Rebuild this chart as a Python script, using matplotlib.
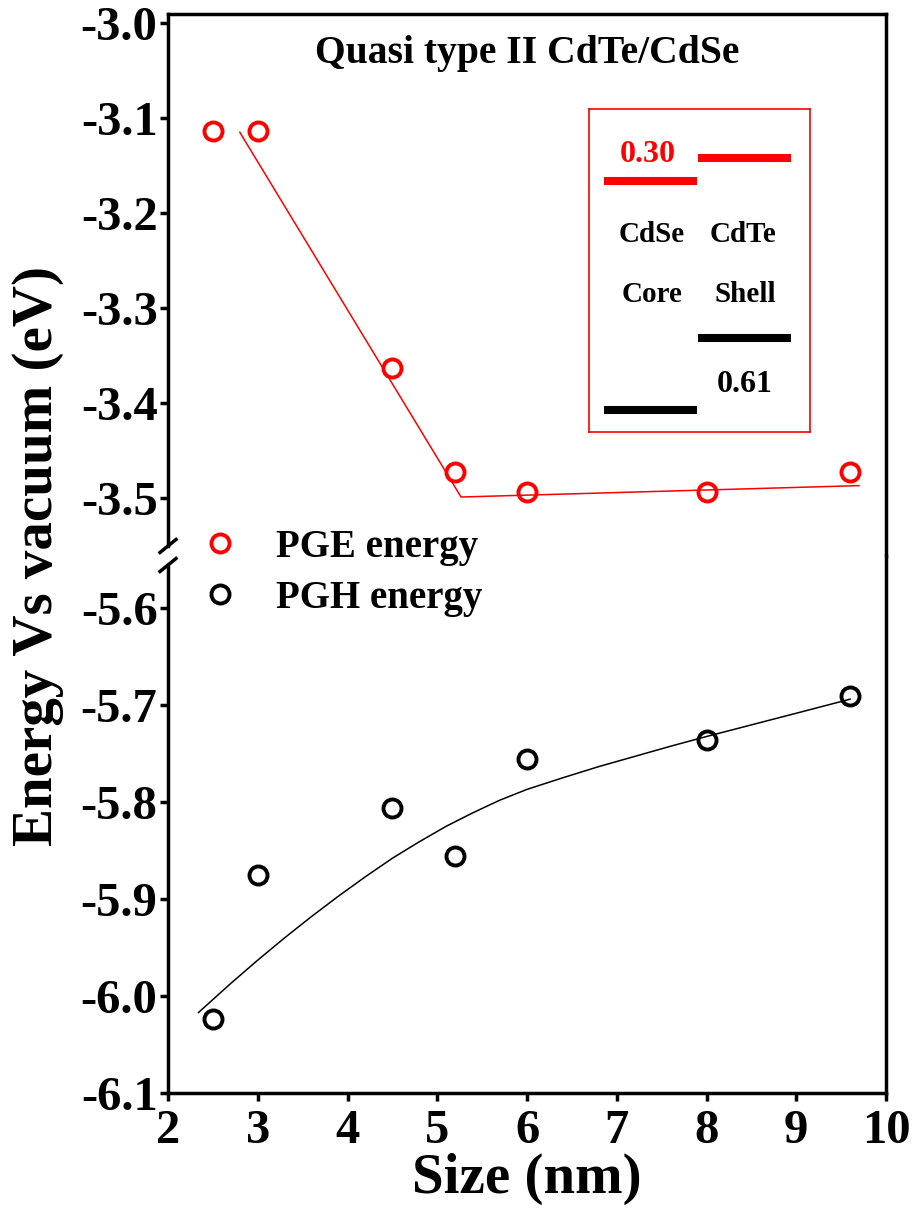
import matplotlib
matplotlib.use("Agg")
import matplotlib.pyplot as plt
from matplotlib.lines import Line2D

plt.rcParams['font.family'] = ['Liberation Serif', 'DejaVu Serif']
plt.rcParams['font.weight'] = 'bold'
plt.rcParams['axes.unicode_minus'] = False

# Measured band-edge energies versus nanocrystal size
size_nm = [2.5, 3.0, 4.5, 5.2, 6.0, 8.0, 9.6]
pge_energy = [-3.114, -3.114, -3.363, -3.473, -3.494, -3.494, -3.473]
pgh_energy = [-6.024, -5.875, -5.806, -5.856, -5.756, -5.736, -5.691]

# Trend line through the PGE points (two linear segments)
pge_fit_x = [2.80, 5.265, 9.70]
pge_fit_y = [-3.115, -3.499, -3.487]

# Smooth trend curve through the PGH points
pgh_fit_x = [2.34, 2.70, 3.00, 3.30, 3.60, 3.90, 4.20, 4.50, 4.80, 5.10, 5.40,
             5.70, 6.00, 6.40, 6.80, 7.20, 7.60, 8.00, 8.50, 9.00, 9.60]
pgh_fit_y = [-6.017, -5.987, -5.963, -5.940, -5.918, -5.897, -5.877, -5.858,
             -5.841, -5.825, -5.811, -5.798, -5.787, -5.775, -5.7635, -5.753,
             -5.7425, -5.7325, -5.7205, -5.7085, -5.694]

upper_ticks = [-3.0, -3.1, -3.2, -3.3, -3.4, -3.5]
lower_ticks = [-5.6, -5.7, -5.8, -5.9, -6.0, -6.1]
x_ticks = [2, 3, 4, 5, 6, 7, 8, 9, 10]

W, H = 915, 1218
fig = plt.figure(figsize=(W / 100, H / 100), dpi=100)

left_px, right_px = 168, 886
top_px, split_px, bottom_px = 14, 556, 1093


def fx(px):
    return px / W


def fy(py):
    return 1 - py / H


ax_top = fig.add_axes([fx(left_px), fy(split_px), fx(right_px - left_px),
                       (split_px - top_px) / H])
ax_bot = fig.add_axes([fx(left_px), fy(bottom_px), fx(right_px - left_px),
                       (bottom_px - split_px) / H])

lw_spine = 2.5
tick_fs = 35

for ax in (ax_top, ax_bot):
    ax.set_xlim(2, 10)
    for s in ax.spines.values():
        s.set_linewidth(lw_spine)
        s.set_capstyle('projecting')
    ax.tick_params(axis='both', direction='out', length=5.5, width=lw_spine,
                   labelsize=tick_fs, pad=2)
    ax.tick_params(axis='x', pad=6)

ax_top.set_ylim(-3.5611, -2.9905)
ax_bot.set_ylim(-6.1, -5.5464)

ax_top.spines['bottom'].set_visible(False)
ax_bot.spines['top'].set_visible(False)
ax_top.spines['left'].set_bounds(-3.5505, -2.9905)
ax_bot.spines['left'].set_bounds(-6.1, -5.5557)

ax_top.set_xticks([])
ax_top.tick_params(axis='x', which='both', bottom=False, labelbottom=False)
ax_top.set_yticks(upper_ticks)
ax_top.set_yticklabels([f"{v:.1f}" for v in upper_ticks])
ax_bot.set_yticks(lower_ticks)
ax_bot.set_yticklabels([f"{v:.1f}" for v in lower_ticks])
ax_bot.set_xticks(x_ticks)
ax_bot.set_xticklabels([str(v) for v in x_ticks])

marker_kw = dict(marker='o', markersize=13, markeredgewidth=2.8,
                 markerfacecolor='none', linestyle='none', clip_on=False)

ax_top.plot(pge_fit_x, pge_fit_y, color='#ff0000', lw=1.1)
h_pge, = ax_top.plot(size_nm, pge_energy, color='#ff0000',
                     markeredgecolor='#ff0000', **marker_kw)

ax_bot.plot(pgh_fit_x, pgh_fit_y, color='black', lw=1.1)
h_pgh, = ax_bot.plot(size_nm, pgh_energy, color='black',
                     markeredgecolor='black', **marker_kw)

# Axis titles
ax_bot.set_xlabel("Size (nm)", fontsize=41, fontweight='bold', labelpad=0)
fig.text(fx(38), fy((262 + 850) / 2), "Energy Vs vacuum (eV)", rotation=90,
         fontsize=41, fontweight='bold', ha='center', va='center')

ax_top.text(0.5, 0.9096, "Quasi type II CdTe/CdSe", transform=ax_top.transAxes,
            fontsize=28.5, fontweight='bold', ha='center', va='baseline')

# Axis-break marks on the left spine
for cy in (546, 565):
    fig.add_artist(Line2D([fx(left_px - 8), fx(left_px + 8)],
                          [fy(cy + 6.5), fy(cy - 6.5)],
                          color='black', lw=lw_spine,
                          transform=fig.transFigure))

# Legend
fig.legend([h_pge, h_pgh], ["PGE energy", "PGH energy"],
           loc='center left', bbox_to_anchor=(fx(200.5), fy(573)),
           frameon=False, handlelength=1.0, handletextpad=0.95,
           labelspacing=0.36, borderpad=0, borderaxespad=0,
           prop={'weight': 'bold', 'size': 28})

# Band-alignment schematic
ins = fig.add_axes([fx(588.5), fy(432), fx(221.5), 323.5 / H])
ins.set_xlim(0, 1)
ins.set_ylim(0, 1)
ins.set_xticks([])
ins.set_yticks([])
for s in ins.spines.values():
    s.set_color('#ff0000')
    s.set_linewidth(1.2)

bar_kw = dict(lw=5.8, solid_capstyle='butt')
ins.plot([0.070, 0.490], [0.776, 0.776], color='#ff0000', **bar_kw)
ins.plot([0.494, 0.914], [0.847, 0.847], color='#ff0000', **bar_kw)
ins.plot([0.494, 0.914], [0.291, 0.291], color='black', **bar_kw)
ins.plot([0.070, 0.490], [0.068, 0.068], color='black', **bar_kw)

ins.text(0.269, 0.836, "0.30", color='#ff0000', fontsize=23, fontweight='bold',
         ha='center', va='baseline')
ins.text(0.287, 0.587, "CdSe", fontsize=21, fontweight='bold',
         ha='center', va='baseline')
ins.text(0.698, 0.587, "CdTe", fontsize=21, fontweight='bold',
         ha='center', va='baseline')
ins.text(0.287, 0.402, "Core", fontsize=21, fontweight='bold',
         ha='center', va='baseline')
ins.text(0.707, 0.402, "Shell", fontsize=21, fontweight='bold',
         ha='center', va='baseline')
ins.text(0.707, 0.125, "0.61", fontsize=23, fontweight='bold',
         ha='center', va='baseline')

fig.savefig("out.png", dpi=100)
